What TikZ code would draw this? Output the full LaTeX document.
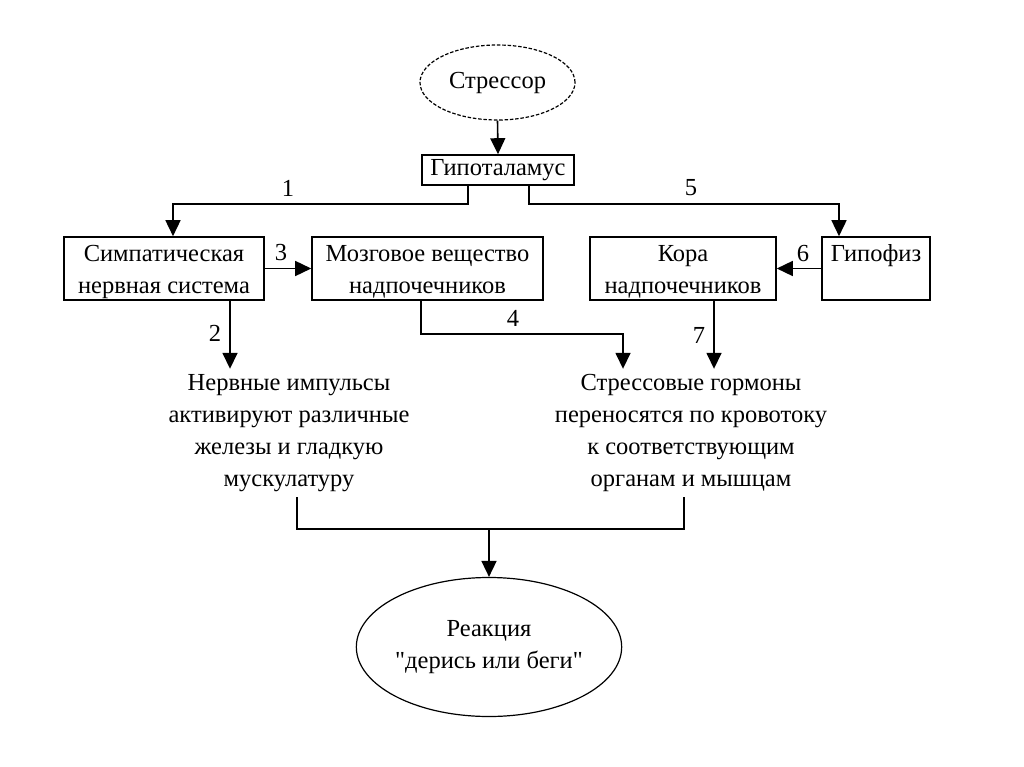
\documentclass[tikz,border=0pt]{standalone}
\usepackage{fontspec}
\setmainfont{Liberation Serif}
\newfontfamily\qfnt{Liberation Serif}
\usetikzlibrary{arrows.meta,shapes.geometric}
\begin{document}
\begin{tikzpicture}[x=1pt,y=-1pt,
  every node/.style={font=\fontsize{24.5}{32}\selectfont},
  box/.style={draw,line width=1.6pt,rectangle,inner sep=0pt,align=center,minimum height=63pt},
  box2/.style={box,text height=50pt,text depth=0pt},
  oval/.style={draw,line width=1.2pt,ellipse,inner sep=0pt,align=center},
  txt/.style={align=center,inner sep=0pt},
  lbl/.style={inner sep=0pt},
  arr/.style={line width=1.6pt,-{Triangle[width=15pt,length=16pt]}},
  ln/.style={line width=1.6pt}]
\fill[white] (0,0) rectangle (1024,767);
\useasboundingbox (0,0) rectangle (1024,767);

% nodes
\node[oval,dash pattern=on 3.5pt off 1.8pt,minimum width=155pt,minimum height=75pt] (stressor) at (497.5,82.5) {Стрессор};
\node[box,minimum width=152pt,minimum height=30pt] (hyp) at (498,170) {Гипоталамус};
\node[box2,minimum width=200pt] (symp) at (164,268.5) {Симпатическая\\нервная система};
\node[box2,minimum width=231pt] (mozg) at (427.5,268.5) {Мозговое вещество\\надпочечников};
\node[box2,minimum width=186pt] (kora) at (683,268.5) {Кора\\надпочечников};
\node[box2,minimum width=108pt] (gipo) at (876,268.5) {Гипофиз\\\phantom{Г}};
\node[txt,minimum height=128pt] (nerv) at (289,433) {Нервные импульсы\\активируют различные\\железы и гладкую\\мускулатуру};
\node[txt,minimum height=128pt] (horm) at (691,433) {Стрессовые гормоны\\переносятся по кровотоку\\к соответствующим\\органам и мышцам};
\node[oval,minimum width=262pt,minimum height=139pt] (react) at (489,647) {Реакция\\{\qfnt"}дерись или беги{\qfnt"}};

% labels
\node[lbl] (l1) at (288,188) {1};
\node[lbl] (l2) at (215,333) {2};
\node[lbl] (l3) at (281,253) {3};
\node[lbl] (l4) at (513,318) {4};
\node[lbl] (l5) at (691,188) {5};
\node[lbl] (l6) at (803,254) {6};
\node[lbl] (l7) at (699,335) {7};

% helper coordinates
\coordinate (c1a) at (468,204);
\coordinate (c1b) at (173,204);
\coordinate (c5a) at (529,204);
\coordinate (c5b) at (839,204);
\coordinate (c2) at (230,0);
\coordinate (c4a) at (421,334);
\coordinate (c4b) at (623,334);
\coordinate (c7) at (714,0);
\coordinate (jl) at (297,529);
\coordinate (jr) at (684,529);
\coordinate (jm) at (489,529);

% connectors
\draw[arr] (stressor.south) -- (hyp.north);
\draw[arr] (hyp.south -| c1a) -- (c1a) -- (c1b) -- (c1b |- symp.north);
\draw[arr] (hyp.south -| c5a) -- (c5a) -- (c5b) -- (c5b |- gipo.north);
\draw[arr] (symp.east) -- (mozg.west);
\draw[arr] (gipo.west) -- (kora.east);
\draw[arr] (symp.south -| c2) -- (c2 |- nerv.north);
\draw[arr] (mozg.south -| c4a) -- (c4a) -- (c4b) -- (c4b |- horm.north);
\draw[arr] (kora.south -| c7) -- (c7 |- horm.north);
\draw[ln] (nerv.south -| jl) -- (jl) -- (jr) -- (jr |- horm.south);
\draw[arr] (jm) -- (react.north);
\end{tikzpicture}
\end{document}
